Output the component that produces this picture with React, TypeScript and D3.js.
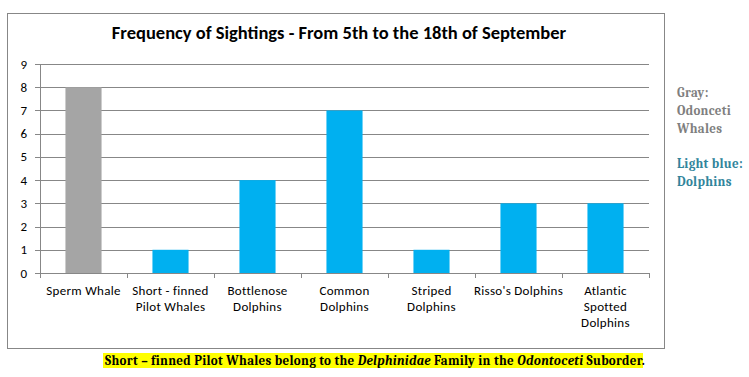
import React from "react";
import * as d3 from "d3";

const categories = [
  ["Sperm Whale"],
  ["Short - finned", "Pilot Whales"],
  ["Bottlenose", "Dolphins"],
  ["Common", "Dolphins"],
  ["Striped", "Dolphins"],
  ["Risso's Dolphins"],
  ["Atlantic", "Spotted", "Dolphins"],
];
const values = [8, 1, 4, 7, 1, 3, 3];
const groups = ["whale", "dolphin", "dolphin", "dolphin", "dolphin", "dolphin", "dolphin"];
const yTicks = [0, 1, 2, 3, 4, 5, 6, 7, 8, 9];
const title = "Frequency of Sightings - From 5th to the 18th of September";

export default function App() {
  const W = 749, H = 377;
  const left = 40, right = 649, top = 64, bottom = 273;
  const x = d3
    .scaleBand<number>()
    .domain(d3.range(categories.length))
    .range([left, right])
    .paddingInner(0.585)
    .paddingOuter(0.2925);
  const step = (right - left) / categories.length;
  const y = d3.scaleLinear().domain([0, 9]).range([bottom, top]);
  const color = (g: string) => (g === "whale" ? "#A5A5A5" : "#00B0F0");
  const sans = "Carlito, Calibri, Lato, 'Open Sans', sans-serif";
  const serif = "Caladea, Cambria, 'Liberation Serif', 'DejaVu Serif', serif";

  return (
    <svg width={W} height={H} style={{ position: "absolute", left: 0, top: 0, background: "#fff" }}>
      <rect x={7.5} y={13.5} width={657} height={335} fill="#fff" stroke="#878787" strokeWidth={1} />
      <text x={339} y={39} textAnchor="middle" fontFamily={sans} fontWeight="bold" fontSize={18.5} fill="#000">
        {title}
      </text>
      {yTicks.map((t) => (
        <g key={t}>
          <line x1={left - 5} x2={right} y1={Math.round(y(t)) + 0.5} y2={Math.round(y(t)) + 0.5} stroke="#878787" strokeWidth={1} />
          <text x={27} y={y(t) + 4.5} textAnchor="end" fontFamily={sans} fontSize={13} fill="#000">
            {t}
          </text>
        </g>
      ))}
      <line x1={left + 0.5} x2={left + 0.5} y1={top} y2={bottom} stroke="#878787" />
      {d3.range(categories.length + 1).map((i) => (
        <line key={i} x1={Math.round(left + i * step) + 0.5} x2={Math.round(left + i * step) + 0.5} y1={bottom} y2={bottom + 5} stroke="#878787" />
      ))}
      {values.map((v, i) => (
        <rect key={i} x={x(i)} y={y(v)} width={x.bandwidth()} height={y(0) - y(v)} fill={color(groups[i])} />
      ))}
      {categories.map((lines, i) => (
        <text key={i} textAnchor="middle" fontFamily={sans} fontSize={13} letterSpacing={0.3} fill="#000">
          {lines.map((l, j) => (
            <tspan key={j} x={left + (i + 0.5) * step} y={295 + j * 16}>
              {l}
            </tspan>
          ))}
        </text>
      ))}
      <g fontFamily={serif} fontWeight="bold" fontSize={13} letterSpacing={0.3}>
        <text x={677} y={97} fill="#7F7F7F">Gray:</text>
        <text x={677} y={115} fill="#7F7F7F">Odonceti</text>
        <text x={677} y={133} fill="#7F7F7F">Whales</text>
        <text x={677} y={168} fill="#31849B">Light blue:</text>
        <text x={677} y={186} fill="#31849B">Dolphins</text>
      </g>
      <rect x={103} y={353} width={540} height={15} fill="#FFFF00" />
      <text x={105} y={365} fontFamily={serif} fontWeight="bold" fontSize={13} letterSpacing={0.3} fill="#000">
        Short – finned Pilot Whales belong to the <tspan fontStyle="italic">Delphinidae</tspan> Family in the{" "}
        <tspan fontStyle="italic">Odontoceti</tspan> Suborder.
      </text>
    </svg>
  );
}
